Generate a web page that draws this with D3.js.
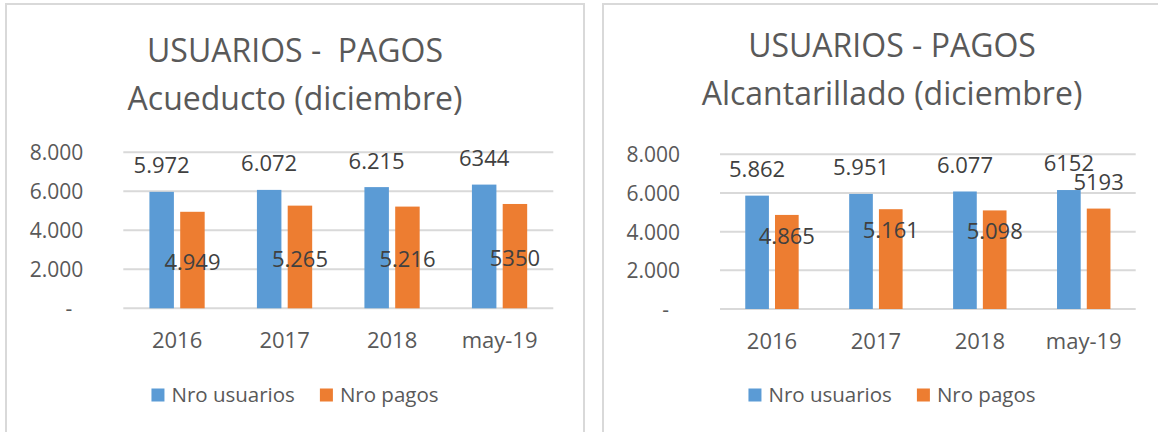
<!DOCTYPE html>
<html>
<head>
<meta charset="utf-8">
<script src="https://cdn.jsdelivr.net/npm/d3@7"></script>
<style>
  html, body { margin: 0; padding: 0; background: #fff; }
  svg { display: block; font-family: "Open Sans", sans-serif; }
</style>
</head>
<body>
<div id="chart"></div>
<script>
const categories = ['2016', '2017', '2018', 'may-19'];
const seriesNames = ['Nro usuarios', 'Nro pagos'];
const seriesColors = ['#5b9bd5', '#ed7d31'];

const acueductoUsuarios = [5972, 6072, 6215, 6344];
const acueductoPagos = [4949, 5265, 5216, 5350];
const alcantarilladoUsuarios = [5862, 5951, 6077, 6152];
const alcantarilladoPagos = [4865, 5161, 5098, 5193];

const yTicks = [0, 2000, 4000, 6000, 8000];
const acueductoTitle = ['USUARIOS -  PAGOS', 'Acueducto (diciembre)'];
const alcantarilladoTitle = ['USUARIOS - PAGOS', 'Alcantarillado (diciembre)'];

// en la hoja de origen el dato de may-19 se escribió sin separador de miles
const plainLabelCategories = new Set(['may-19']);

const W = 1158, H = 432;
const TEXT = '#595959';
const LABEL = '#404040';
const GRID = '#d9d9d9';

const locale = d3.formatLocale({ decimal: ',', thousands: '.', grouping: [3], currency: ['', ''] });
const fmt = locale.format(',d');

const svg = d3.select('#chart').append('svg')
  .attr('width', W)
  .attr('height', H);

svg.append('rect').attr('width', W).attr('height', H).attr('fill', '#fff');

function drawChart({ panel, plot, title, titleBaselines, usuarios, pagos, placements }) {
  const g = svg.append('g');
  const cx = panel.x + panel.w / 2;

  g.append('rect')
    .attr('x', panel.x).attr('y', panel.y)
    .attr('width', panel.w).attr('height', panel.h)
    .attr('fill', '#fff')
    .attr('stroke', GRID)
    .attr('stroke-width', 2);

  g.selectAll('text.title')
    .data(title)
    .join('text')
    .attr('class', 'title')
    .attr('x', cx)
    .attr('y', (d, i) => titleBaselines[i])
    .attr('text-anchor', 'middle')
    .attr('fill', TEXT)
    .style('font-size', '32px')
    .style('white-space', 'pre')
    .text(d => d);

  const x0 = d3.scaleBand().domain(categories).range([plot.left, plot.right]).padding(0);
  const bw = x0.bandwidth();
  const x1 = d3.scaleBand().domain(seriesNames).range([bw * 0.243, bw * 0.757]).paddingInner(0.2045);
  const y = d3.scaleLinear().domain([0, 8000]).range([plot.bottom, plot.top]);

  // rejilla
  g.append('g').selectAll('line')
    .data(yTicks)
    .join('line')
    .attr('x1', plot.left).attr('x2', plot.right)
    .attr('y1', d => y(d)).attr('y2', d => y(d))
    .attr('stroke', GRID)
    .attr('stroke-width', 2);

  // eje Y
  const yAxis = g.append('g')
    .attr('transform', `translate(${plot.left},0)`)
    .call(d3.axisLeft(y).tickValues(yTicks).tickSize(0).tickPadding(40)
      .tickFormat(d => d === 0 ? '-' : fmt(d)));
  yAxis.select('.domain').remove();
  yAxis.selectAll('text')
    .attr('fill', TEXT)
    .attr('dy', '0.36em')
    .attr('dx', d => d === 0 ? -11 : 0)
    .style('font-family', '"Open Sans", sans-serif')
    .style('font-size', '21px');

  // eje X
  const xAxis = g.append('g')
    .attr('transform', `translate(0,${plot.bottom})`)
    .call(d3.axisBottom(x0).tickSize(0).tickPadding(0));
  xAxis.select('.domain').remove();
  xAxis.selectAll('text')
    .attr('fill', TEXT)
    .attr('y', 32)
    .attr('dy', '0.36em')
    .style('font-family', '"Open Sans", sans-serif')
    .style('font-size', '22px');

  const rows = categories.map((c, i) => ({
    cat: c,
    values: [usuarios[i], pagos[i]].map((v, s) => ({ cat: c, idx: i, s, v, name: seriesNames[s] })),
  }));

  const groups = g.append('g').selectAll('g')
    .data(rows)
    .join('g')
    .attr('transform', d => `translate(${x0(d.cat)},0)`);

  groups.selectAll('rect')
    .data(d => d.values)
    .join('rect')
    .attr('x', d => x1(d.name))
    .attr('width', x1.bandwidth())
    .attr('y', d => y(d.v))
    .attr('height', d => y(0) - y(d.v))
    .attr('fill', d => seriesColors[d.s]);

  // etiquetas de datos
  function labelCenterY(d) {
    const p = placements[d.s][d.idx];
    if (p === 'out') return y(d.v) - 26.5;
    if (p === 'in') return y(d.v) + 21;
    return (y(d.v) + y(0)) / 2 + 2;
  }

  groups.selectAll('text')
    .data(d => d.values)
    .join('text')
    .attr('x', d => x1(d.name) + x1.bandwidth() / 2)
    .attr('y', d => labelCenterY(d))
    .attr('dy', '0.36em')
    .attr('text-anchor', 'middle')
    .attr('fill', LABEL)
    .style('font-size', '22px')
    .text(d => plainLabelCategories.has(d.cat) ? String(d.v) : fmt(d.v));

  // leyenda
  const legend = g.append('g');
  const items = legend.selectAll('g')
    .data(seriesNames)
    .join('g');
  items.append('rect')
    .attr('width', 13).attr('height', 13)
    .attr('y', 388.5)
    .attr('fill', (d, i) => seriesColors[i]);
  items.append('text')
    .attr('x', 20)
    .attr('y', 395)
    .attr('dy', '0.36em')
    .attr('fill', TEXT)
    .style('font-size', '20.5px')
    .text(d => d);

  let offset = 0;
  const widths = [];
  items.each(function () {
    const w = 20 + d3.select(this).select('text').node().getComputedTextLength();
    widths.push(w);
  });
  const total = d3.sum(widths) + 25 * (widths.length - 1);
  items.attr('transform', (d, i) => {
    const tx = cx - total / 2 + offset;
    offset += widths[i] + 25;
    return `translate(${tx},0)`;
  });
}

drawChart({
  panel: { x: 6, y: 4, w: 578, h: 460 },
  plot: { left: 123.3, right: 553.3, top: 152.3, bottom: 308.3 },
  title: acueductoTitle,
  titleBaselines: [61.7, 110],
  usuarios: acueductoUsuarios,
  pagos: acueductoPagos,
  placements: [['out', 'out', 'out', 'out'], ['center', 'center', 'center', 'center']],
});

drawChart({
  panel: { x: 603, y: 4, w: 578, h: 460 },
  plot: { left: 720, right: 1135.7, top: 154.3, bottom: 309 },
  title: alcantarilladoTitle,
  titleBaselines: [56.7, 105],
  usuarios: alcantarilladoUsuarios,
  pagos: alcantarilladoPagos,
  placements: [['out', 'out', 'out', 'out'], ['in', 'in', 'in', 'out']],
});
</script>
</body>
</html>
